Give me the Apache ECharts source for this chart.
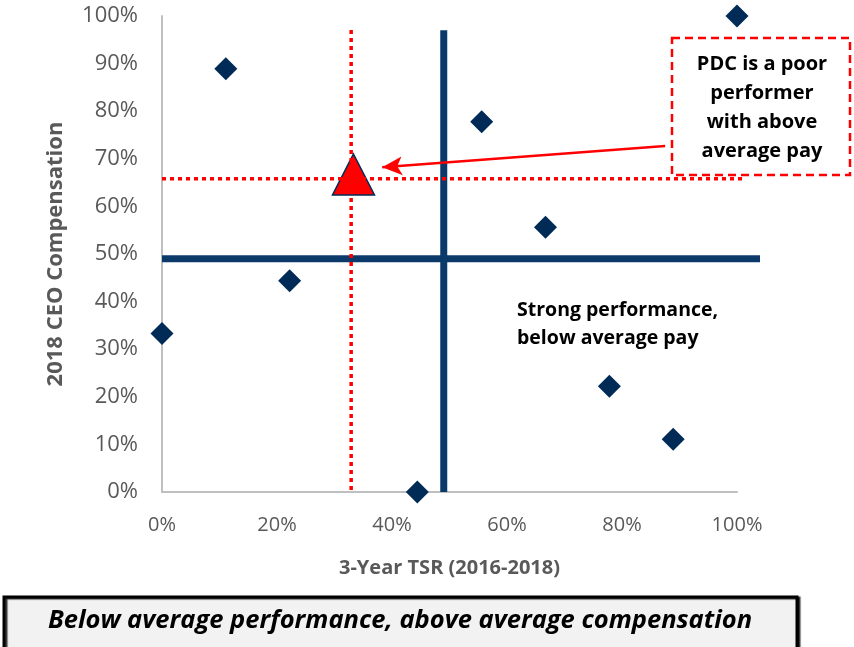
<!DOCTYPE html>
<html>
<head>
<meta charset="utf-8">
<script src="https://cdn.jsdelivr.net/npm/echarts@6/dist/echarts.min.js"></script>
<style>
  html, body { margin: 0; padding: 0; background: #fff; }
  #chart { width: 854px; height: 647px; }
</style>
</head>
<body>
<div id="chart"></div>
<script>
// peers: 3-year TSR percentile vs 2018 CEO pay percentile
var peerTsr = [0, 11.1, 22.2, 44.4, 55.6, 66.7, 77.8, 88.9, 100];
var peerPay = [33.3, 88.9, 44.4, 0, 77.8, 55.6, 22.2, 11.1, 100];
var pdcPoint = [33.3, 66.7];
// median lines
var medianTsr = 49;
var medianPay = 49;
// PDC guide lines
var pdcGuideX = 32.9;
var pdcGuideY = 65.8;
var tickLabels = ['0%', '10%', '20%', '30%', '40%', '50%', '60%', '70%', '80%', '90%', '100%'];

var navy = '#002b57';
var lineNavy = '#0b3a6a';
var font = '"Open Sans", "Noto Sans", sans-serif';

var peerData = peerTsr.map(function (x, i) { return [x, peerPay[i]]; });

var chart = echarts.init(document.getElementById('chart'));

// second grid shares the scale of the first but runs to 104% so lines can overshoot
var hiddenAxis = {
    show: false, type: 'value', min: 0, splitLine: { show: false }
};

var option = {
    animation: false,
    grid: [
        { left: 162, right: 117, top: 16, bottom: 155 },
        { left: 162, right: 94, top: 16, bottom: 155 }
    ],
    xAxis: [
        {
            type: 'value', min: 0, max: 100, interval: 20,
            name: '3-Year TSR (2016-2018)', nameLocation: 'middle', nameGap: 66,
            nameTextStyle: { fontFamily: font, fontWeight: 'bold', fontSize: 20, color: '#595959' },
            axisLine: { show: true, lineStyle: { color: '#bfbfbf', width: 2 } },
            axisTick: { show: false },
            splitLine: { show: false },
            axisLabel: {
                fontFamily: font, fontSize: 20, color: '#595959', margin: 23,
                formatter: function (v) { return v + '%'; }
            }
        },
        Object.assign({ gridIndex: 1, max: 104 }, hiddenAxis)
    ],
    yAxis: [
        {
            type: 'value', min: 0, max: 100, interval: 10,
            name: '2018 CEO Compensation', nameLocation: 'middle', nameGap: 95, nameRotate: 90,
            nameTextStyle: { fontFamily: font, fontWeight: 'bold', fontSize: 22, color: '#595959' },
            axisLine: { show: true, lineStyle: { color: '#bfbfbf', width: 2 } },
            axisTick: { show: false },
            splitLine: { show: false },
            axisLabel: {
                fontFamily: font, fontSize: 22, color: '#595959', margin: 24,
                formatter: function (v) { return tickLabels[Math.round(v / 10)]; }
            }
        },
        Object.assign({ gridIndex: 1, max: 100 }, hiddenAxis)
    ],
    series: [
        {
            type: 'line', xAxisIndex: 1, yAxisIndex: 1, clip: false, symbol: 'none', silent: true,
            data: [[0, medianPay], [104, medianPay]],
            lineStyle: { color: lineNavy, width: 7 }
        },
        {
            type: 'line', xAxisIndex: 1, yAxisIndex: 1, clip: false, symbol: 'none', silent: true,
            data: [[medianTsr, 0], [medianTsr, 97]],
            lineStyle: { color: lineNavy, width: 7 }
        },
        {
            type: 'line', xAxisIndex: 1, yAxisIndex: 1, clip: false, symbol: 'none', silent: true,
            data: [[pdcGuideX, 0.4], [pdcGuideX, 97.3]],
            lineStyle: { color: '#ff0000', width: 3.5, type: [4, 4] }
        },
        {
            type: 'line', xAxisIndex: 1, yAxisIndex: 1, clip: false, symbol: 'none', silent: true,
            data: [[0, pdcGuideY], [101.4, pdcGuideY]],
            lineStyle: { color: '#ff0000', width: 3.5, type: [4, 4] }
        },
        {
            type: 'scatter', clip: false,
            symbol: 'diamond', symbolSize: 23,
            itemStyle: { color: navy, opacity: 1 },
            data: peerData
        },
        {
            type: 'scatter', clip: false,
            symbol: 'triangle', symbolSize: [42, 41],
            itemStyle: { color: '#ff0000', borderColor: navy, borderWidth: 1.5, opacity: 1 },
            data: [pdcPoint],
            markLine: {
                silent: true,
                symbol: ['none', 'arrow'], symbolSize: [14, 20],
                label: { show: false },
                lineStyle: { color: '#ff0000', width: 2.5, type: 'solid' },
                data: [[{ coord: [87.5, 72.7] }, { coord: [38.3, 68.2] }]]
            }
        }
    ],
    graphic: [
        {
            type: 'rect', x: 672, y: 38,
            shape: { width: 178, height: 137 },
            style: { fill: '#fff', stroke: '#ff0000', lineWidth: 2.5, lineDash: [8, 5] }
        },
        {
            type: 'text', x: 762, y: 50,
            style: {
                text: 'PDC is a poor\nperformer\nwith above\naverage pay',
                textAlign: 'center',
                font: 'bold 20px ' + font, fill: '#000', lineHeight: 29
            }
        },
        {
            type: 'text', x: 517, y: 296,
            style: {
                text: 'Strong performance,\nbelow average pay',
                font: 'bold 19.5px ' + font, fill: '#000', lineHeight: 28
            }
        },
        {
            type: 'rect', x: 4, y: 597,
            shape: { width: 793, height: 56 },
            style: { fill: '#f2f2f2', stroke: '#000', lineWidth: 3,
                shadowColor: 'rgba(0,0,0,0.8)', shadowOffsetX: 2, shadowOffsetY: 1, shadowBlur: 1 }
        },
        {
            type: 'text', x: 400, y: 608,
            style: {
                text: 'Below average performance, above average compensation',
                textAlign: 'center',
                font: 'italic bold 25.5px ' + font, fill: '#000'
            }
        }
    ]
};

chart.setOption(option);
</script>
</body>
</html>
